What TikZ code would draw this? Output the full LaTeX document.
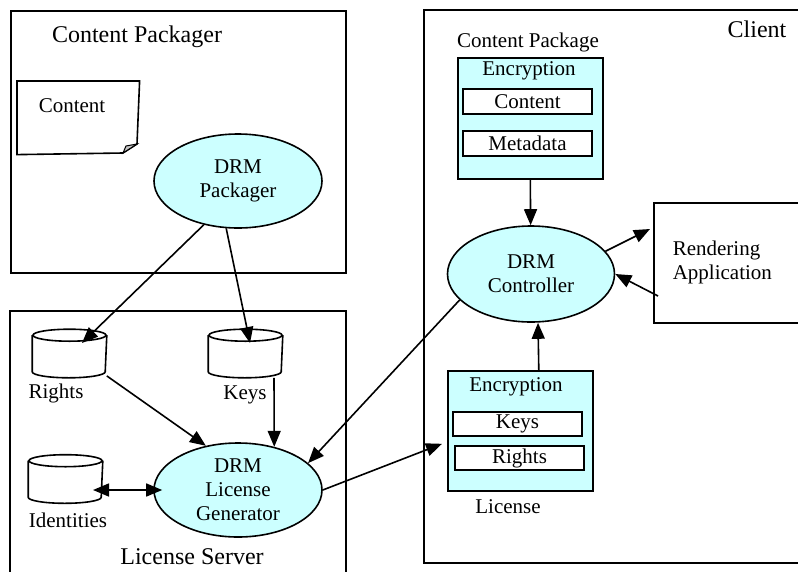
\documentclass[tikz,border=0pt]{standalone}
\usepackage{fontspec}
\setmainfont{Liberation Serif}
\usetikzlibrary{positioning,shapes.geometric,arrows.meta}
\definecolor{drmcyan}{HTML}{CCFFFF}

\begin{document}
\begin{tikzpicture}[x=1pt,y=-1pt,line width=1.6pt,>={Triangle[length=16pt,width=13pt]}]
	\tikzstyle{proc}=[ellipse,draw,fill=drmcyan,minimum width=168pt,minimum height=94pt,inner sep=0pt,align=center,font=\fontsize{21}{24}\selectfont]
	\tikzstyle{store}=[inner sep=0pt,minimum width=73pt,minimum height=47pt]
	\tikzstyle{group}=[draw,anchor=north west,inner sep=0pt]
	\tikzstyle{enc}=[draw,fill=drmcyan,anchor=north west,inner sep=0pt,minimum width=145pt]
	\tikzstyle{field}=[draw,fill=white,inner sep=0pt,minimum width=129pt,minimum height=25pt,font=\fontsize{21}{24}\selectfont]
	\tikzstyle{txt}=[inner sep=0pt,font=\fontsize{21}{24}\selectfont]
	\tikzstyle{title}=[inner sep=0pt,font=\fontsize{24}{28}\selectfont]
	\useasboundingbox (0,0) rectangle (798,571);
	\clip (0,0) rectangle (798,571);
	% groups
		\node[group,minimum width=335pt,minimum height=262pt] (packager) at (10,10) {};
		\node[group,minimum width=336pt,minimum height=300pt] (server) at (9,310) {};
		\node[group,minimum width=400pt,minimum height=553pt] (client) at (423,9) {};
		\node[title] (packagerlbl) at (137,37) {Content Packager};
		\node[title] (serverlbl) at (192,557) {License Server};
		\node[title] (clientlbl) at (757,29) {Client};
	% content packager
		\node[anchor=north west,inner sep=0pt,minimum width=121pt,minimum height=72pt] (content) at (17,81) {};
		\draw (content.north west) -- (content.north east) -- (137,144) -- (123,153) -- (content.south west) -- cycle;
		\draw[fill=gray!45,line width=1pt] (123,153) -- (126,146) -- (137,144) -- cycle;
		\node[txt] (contentlbl) at (72,106) {Content};
		\node[proc] (pkg) at (238,181) {DRM\\Packager};
	% license server
		\node[store] (rights) at (69.5,353.5) {};
		\node[store] (keys) at (245.5,353.5) {};
		\node[store] (ident) at (65.5,479) {};
		\foreach \c in {rights,keys,ident} {
			\draw ([yshift=-6pt]\c.north west) -- ([yshift=6pt]\c.south west)
				arc[start angle=180,end angle=360,x radius=36.5pt,y radius=6pt]
				-- ([yshift=-6pt]\c.north east);
			\draw ([yshift=-6pt]\c.north) ellipse [x radius=36.5pt,y radius=6pt];
		}
		\node[txt] (rightslbl) at (56,393) {Rights};
		\node[txt] (keyslbl) at (245,395) {Keys};
		\node[txt] (identlbl) at (68,520) {Identities};
		\node[proc] (gen) at (238,490) {DRM\\License\\Generator};
	% client
		\node[txt] (cpkglbl) at (528,42) {Content Package};
		\node[enc,minimum height=121pt] (cpkg) at (457,57) {};
		\node[txt] (cpkgenc) at (529,71) {Encryption};
		\node[field] (cfield) at (527.5,101.5) {Content};
		\node[field] (mfield) at (527.5,143.5) {Metadata};
		\node[proc,minimum width=167pt,minimum height=96pt] (ctrl) at (531,274) {DRM\\Controller};
		\node[group,minimum width=170pt,minimum height=120pt] (render) at (653,202) {};
		\node[txt,anchor=west,align=left] (renderlbl) at (672,262) {Rendering\\Application};
		\node[enc,minimum height=120pt] (licbox) at (447,370) {};
		\node[txt] (licenc) at (516,387) {Encryption};
		\node[field,minimum height=24pt] (kfield) at (517.5,424) {Keys};
		\node[field,minimum height=24pt] (rfield) at (519.5,458) {Rights};
		\node[txt] (liclbl) at (508,507) {License};
	% connectors
		\draw[->] (pkg.232) -- ([xshift=12.5pt,yshift=10.5pt]rights.center);
		\draw[->] (pkg.256) -- ([xshift=4.5pt,yshift=10.5pt]keys.center);
		\draw[->] (rights.-31) -- (gen.126);
		\draw[->] ([xshift=28.5pt]keys.south) -- (gen.50);
		\draw[<->] ([xshift=27.5pt,yshift=-11pt]ident.center) -- ([xshift=9pt]gen.west);
		\draw[->] (gen.east) -- ([xshift=-5pt,yshift=-13pt]licbox.west);
		\draw[->] (ctrl.200) -- (gen.21);
		\draw[->] (cpkg.south) -- (ctrl);
		\draw[->] ([xshift=18.5pt]licbox.north) -- ([xshift=7pt]ctrl.south);
		\draw[->] (ctrl.17) -- ([xshift=-3pt,yshift=-27pt]render.north west);
		\draw[->] ([xshift=5pt,yshift=-94pt]render.north west) -- (ctrl.east);
\end{tikzpicture}
\end{document}
